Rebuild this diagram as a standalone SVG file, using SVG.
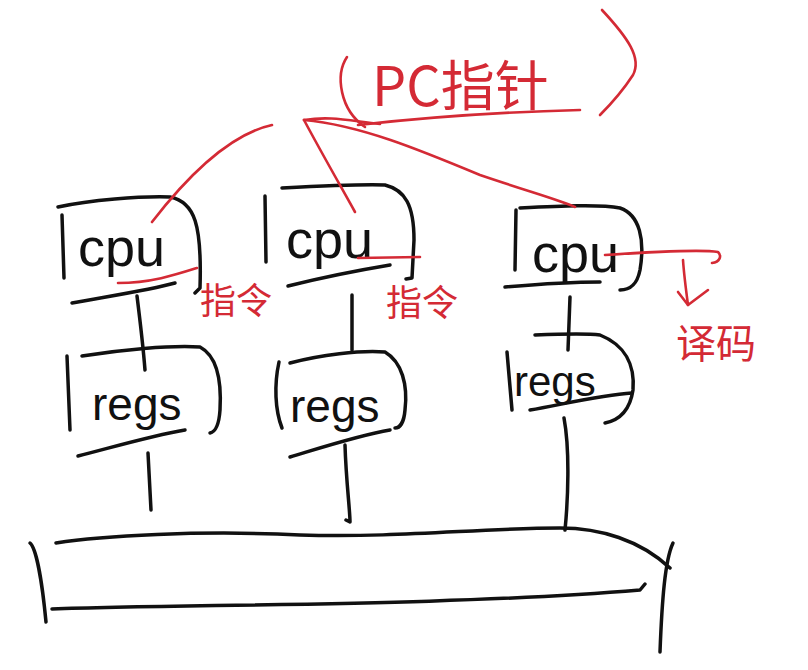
<svg xmlns="http://www.w3.org/2000/svg" width="808" height="670" viewBox="0 0 808 670">
<style>
.k{fill:none;stroke:#111;stroke-width:3.5;stroke-linecap:round;stroke-linejoin:round}
.r{fill:none;stroke:#d42a35;stroke-width:2.6;stroke-linecap:round;stroke-linejoin:round}
.t{font-family:"Liberation Sans","DejaVu Sans",sans-serif;fill:#111}
.rt{font-family:"Noto Sans CJK SC","Liberation Sans",sans-serif;fill:#d42a35}
</style>
<rect width="808" height="670" fill="#fff"/>
<g id="pc">
<path class="r" d="M347,57 C335,75 340,110 365,127"/>
<path class="r" d="M602,10 C628,38 642,58 633,75 C622,92 610,105 600,115"/>
<path class="r" d="M358,125 C420,118 500,112 580,110"/>
<text class="rt" x="372" y="106" font-size="54">PC指针</text>
</g>
<g id="cpu1">
<path class="k" d="M58,207 C90,200 140,196 170,197 C195,202 202,225 200,288 L195,293"/>
<path class="k" d="M62,215 L64,278"/>
<path class="k" d="M72,303 C110,296 150,290 175,283"/>
<text class="t" x="78" y="266" font-size="54">cpu</text>
</g>
<g id="cpu2">
<path class="k" d="M282,188 C320,186 360,184 385,185 C405,190 414,205 414,240 L412,278 L406,279"/>
<path class="k" d="M265,196 L266,262"/>
<path class="k" d="M288,286 C320,278 360,270 390,265"/>
<text class="t" x="286" y="258" font-size="54">cpu</text>
</g>
<g id="cpu3">
<path class="k" d="M520,208 C560,206 600,204 620,208 C640,215 645,240 640,270 C637,285 630,290 620,290"/>
<path class="k" d="M516,210 L515,270"/>
<path class="k" d="M505,287 C540,284 575,282 600,282"/>
<text class="t" x="532" y="272" font-size="54">cpu</text>
</g>
<g id="regs1">
<path class="k" d="M82,356 C120,350 170,345 200,347 C215,355 222,375 220,410 C219,425 215,432 210,433"/>
<path class="k" d="M67,356 L70,430"/>
<path class="k" d="M78,456 C110,448 150,436 185,430"/>
<text class="t" x="92" y="420" font-size="46">regs</text>
</g>
<g id="regs2">
<path class="k" d="M290,363 C320,355 360,350 385,352 C402,362 408,385 405,410 C404,422 400,428 395,428"/>
<path class="k" d="M279,362 C274,385 275,410 282,428"/>
<path class="k" d="M290,457 C320,448 360,435 390,430"/>
<text class="t" x="290" y="422" font-size="46">regs</text>
</g>
<g id="regs3">
<path class="k" d="M535,335 C560,334 585,333 600,335 C625,345 635,365 633,390 C630,410 620,420 605,423"/>
<path class="k" d="M507,352 L512,410"/>
<path class="k" d="M530,410 C560,405 600,395 632,393"/>
<text class="t" x="514" y="396" font-size="42">regs</text>
</g>
<g id="memory">
<path class="k" d="M56,543 C100,536 200,530 300,535 C400,538 480,528 560,528 C600,528 640,540 670,568"/>
<path class="k" d="M52,609 C200,604 450,606 640,590 L645,584"/>
<path class="k" d="M30,543 C36,548 42,580 46,622"/>
<path class="k" d="M673,543 C665,560 662,600 660,652"/>
</g>
<g id="connectors">
<path class="k" d="M137,296 C140,320 143,345 145,370"/>
<path class="k" d="M148,453 L151,510"/>
<path class="k" d="M352,295 L352,350"/>
<path class="k" d="M345,445 C346,480 350,510 350,522 L346,520"/>
<path class="k" d="M570,297 L568,350"/>
<path class="k" d="M564,418 C570,450 568,500 565,530"/>
<path class="r" d="M304,120 C330,116 345,120 380,124"/>
<path class="r" d="M304,120 C360,125 420,150 480,175 C530,192 560,200 575,207"/>
<path class="r" d="M304,120 C320,150 340,185 355,212"/>
<path class="r" d="M272,125 C240,132 200,160 152,222"/>
<path class="r" d="M118,283 C150,283 175,275 197,268"/>
<path class="r" d="M358,258 L420,257"/>
<path class="r" d="M605,255 C650,252 700,249 718,252 C722,256 720,262 712,263"/>
<path class="r" d="M683,260 C684,275 686,290 688,305"/>
<path class="r" d="M678,292 L688,305 L708,290"/>
</g>
<g id="labels">
<text class="rt" x="200" y="314" font-size="36">指令</text>
<text class="rt" x="386" y="316" font-size="36">指令</text>
<text class="rt" x="676" y="358" font-size="40">译码</text>
</g>
</svg>
